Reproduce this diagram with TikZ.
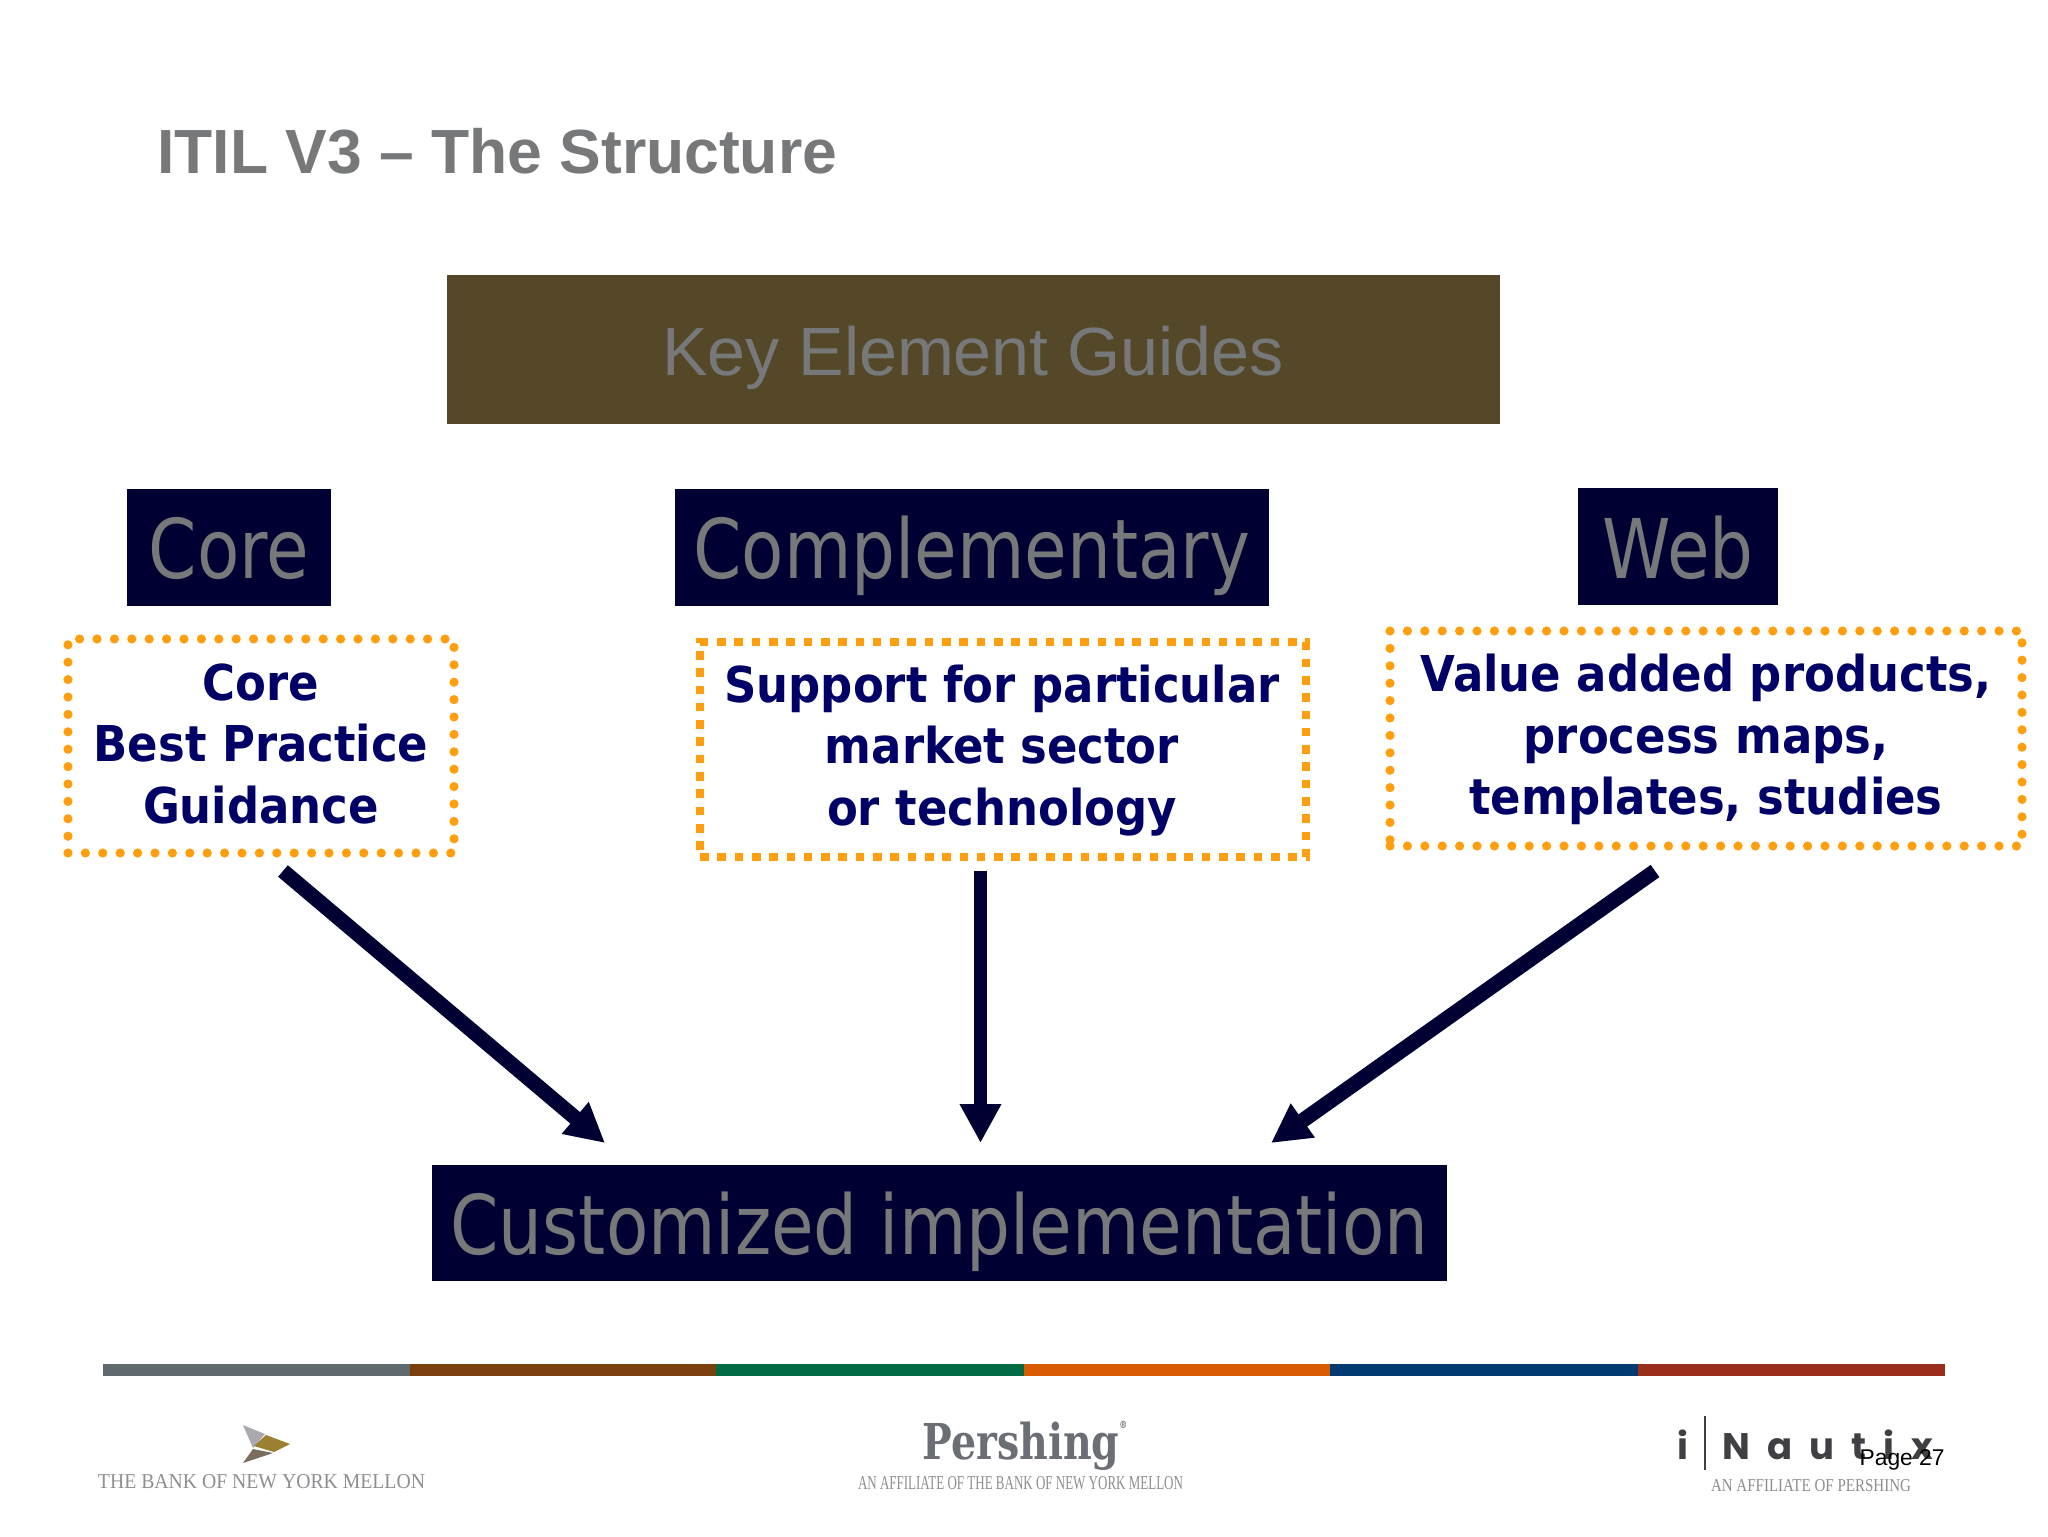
\documentclass[tikz,border=0pt]{standalone}
\usepackage{fontspec}
\usepackage{graphicx}
\usetikzlibrary{arrows.meta}
\setmainfont{Liberation Sans}
\newfontfamily\hdfont{DejaVu Sans}[FakeStretch=0.84]
\newfontfamily\bdfont{DejaVu Sans}[FakeStretch=0.91]
\newfontfamily\serfont{Liberation Serif}
\newfontfamily\perfont{DejaVu Serif}[FakeStretch=0.8]
\newfontfamily\popfont{Poppins}[LetterSpace=46]
\definecolor{navy}{HTML}{000033}
\definecolor{deep}{HTML}{000066}
\definecolor{txtgray}{HTML}{76787A}
\definecolor{olive}{HTML}{544829}
\definecolor{dotor}{HTML}{FF9F0F}
\definecolor{logotxt}{HTML}{8E8E92}
\definecolor{s1}{HTML}{5F6A6E}\definecolor{s2}{HTML}{7A3F0C}\definecolor{s3}{HTML}{006A43}
\definecolor{s4}{HTML}{D95C04}\definecolor{s5}{HTML}{003A70}\definecolor{s6}{HTML}{9A2E1A}
\definecolor{inau}{HTML}{3F3F44}
\definecolor{pers}{HTML}{6C6E75}
\definecolor{lg1}{HTML}{ABA9AE}\definecolor{lg2}{HTML}{9A8030}\definecolor{lg3}{HTML}{7A6F5C}
\tikzset{
  x=0.5pt,y=-0.5pt,
  box/.style={fill=#1,draw=none,inner sep=0pt},
  head/.style={text=txtgray,font=\hdfont\fontsize{41.2}{48}\selectfont,inner sep=0pt,anchor=base},
  guide/.style={text=deep,font=\bdfont\bfseries\fontsize{24.7}{30.7}\selectfont,align=center,inner sep=0pt},
  dotbox/.style={draw=dotor,line width=4.6pt,line cap=round,dash pattern=on 0pt off 8.7pt,inner sep=0pt},
  sqbox/.style={draw=dotor,line width=4pt,dash pattern=on 4.3pt off 4.35pt,inner sep=0pt},
  arr/.style={draw=navy,line width=#1,-{Triangle[length=19.5pt,width=19.5pt]}},
  small/.style={text=logotxt,inner sep=0pt},
}
\begin{document}
\begin{tikzpicture}
\useasboundingbox (0,0) rectangle (2048,1536);
\fill[white] (0,0) rectangle (2048,1536);
% title
\node[anchor=base west,inner sep=0pt,text=txtgray,font=\bfseries\fontsize{31.2}{36}\selectfont] (title) at (157,173) {ITIL V3 – The Structure};
% key box
\node[box=olive,minimum width=526.5pt,minimum height=74.5pt] (key) at (973,349.5) {};
\node[anchor=base,inner sep=0pt,text=txtgray,font=\fontsize{34.1}{40}\selectfont] (keyt) at (973,375.5) {Key Element Guides};
% headers
\node[box=navy,minimum width=102pt,minimum height=58.5pt] (coreb) at (229,547.5) {};
\node[head] (coret) at (229,578) {Core};
\node[box=navy,minimum width=297pt,minimum height=58.5pt] (compb) at (972,547.5) {};
\node[head] (compt) at (972,578) {Complementary};
\node[box=navy,minimum width=100pt,minimum height=58.5pt] (webb) at (1678,546.5) {};
\node[head] (webt) at (1678,578) {Web};
% dotted boxes
\node[dotbox,minimum width=193pt,minimum height=107pt] (g1) at (261,746) {};
\node[guide] (g1t) at (261,744) {Core\\Best Practice\\Guidance};
\node[sqbox,minimum width=303pt,minimum height=107.5pt] (g2) at (1003,749.5) {};
\node[guide] (g2t) at (1002,750.5) {Support for particular\\market sector\\or technology};
\node[dotbox,minimum width=316pt,minimum height=107.5pt] (g3) at (1706,738.5) {};
\node[guide] (g3t) at (1706,739.5) {Value added products,\\process maps,\\templates, studies};
% implementation
\node[box=navy,minimum width=507.5pt,minimum height=58pt] (impl) at (939.5,1223) {};
\node[head] (implt) at (939.5,1254) {Customized implementation};
% arrows
\coordinate (a1s) at (283,871); \coordinate (a1e) at (605,1143);
\coordinate (a2s) at (980.5,871); \coordinate (a2e) at (980.5,1143);
\coordinate (a3s) at (1655,871); \coordinate (a3e) at (1271,1143);
\draw[arr=7.5pt] (a1s) -- (a1e);
\draw[arr=6.7pt] (a2s) -- (a2e);
\draw[arr=7.5pt] (a3s) -- (a3e);
% colour bar
\fill[s1] (102.5,1364) rectangle (409.5,1376);
\fill[s2] (409.5,1364) rectangle (716,1376);
\fill[s3] (716,1364) rectangle (1023.5,1376);
\fill[s4] (1023.5,1364) rectangle (1330,1376);
\fill[s5] (1330,1364) rectangle (1638,1376);
\fill[s6] (1638,1364) rectangle (1945,1376);
% BNY logo
\fill[lg1] (243,1425) -- (265,1434) -- (253,1448) -- cycle;
\fill[lg2] (266,1435) -- (290,1444) -- (274,1452) -- (254,1446) -- cycle;
\fill[lg3] (253,1449) -- (273,1453) -- (243,1463) -- cycle;
\node[small,font=\serfont] (bny) at (261.5,1482) {\resizebox{163.5pt}{7pt}{THE BANK OF NEW YORK MELLON}};
% Pershing logo
\node[anchor=base west,inner sep=0pt,text=pers,font=\perfont\bfseries\fontsize{24.7}{30}\selectfont] (per) at (922,1459) {Pershing\raisebox{1.2ex}{\tiny ®}};
\node[small,font=\serfont] (peraf) at (1020.5,1483.5) {\resizebox{162.5pt}{6.5pt}{AN AFFILIATE OF THE BANK OF NEW YORK MELLON}};
% iNautix logo
\node[anchor=base west,inner sep=0pt,text=inau,font=\popfont\bfseries\fontsize{18.5}{20}\selectfont] (ini) at (1677,1459) {i};
\coordinate (ibt) at (1705,1416); \coordinate (ibb) at (1705,1470);
\draw[inau,line width=1.2pt] (ibt) -- (ibb);
\node[anchor=base west,inner sep=0pt,text=inau,font=\popfont\bfseries\fontsize{18.5}{20}\selectfont] (nau) at (1722,1459) {Nautix};
\node[small,font=\serfont] (inaf) at (1811,1486) {\resizebox{100pt}{6pt}{AN AFFILIATE OF PERSHING}};
\node[anchor=base east,inner sep=0pt,text=black,font=\fontsize{11.4}{14}\selectfont] (page) at (1945,1465) {Page 27};
\end{tikzpicture}
\end{document}
